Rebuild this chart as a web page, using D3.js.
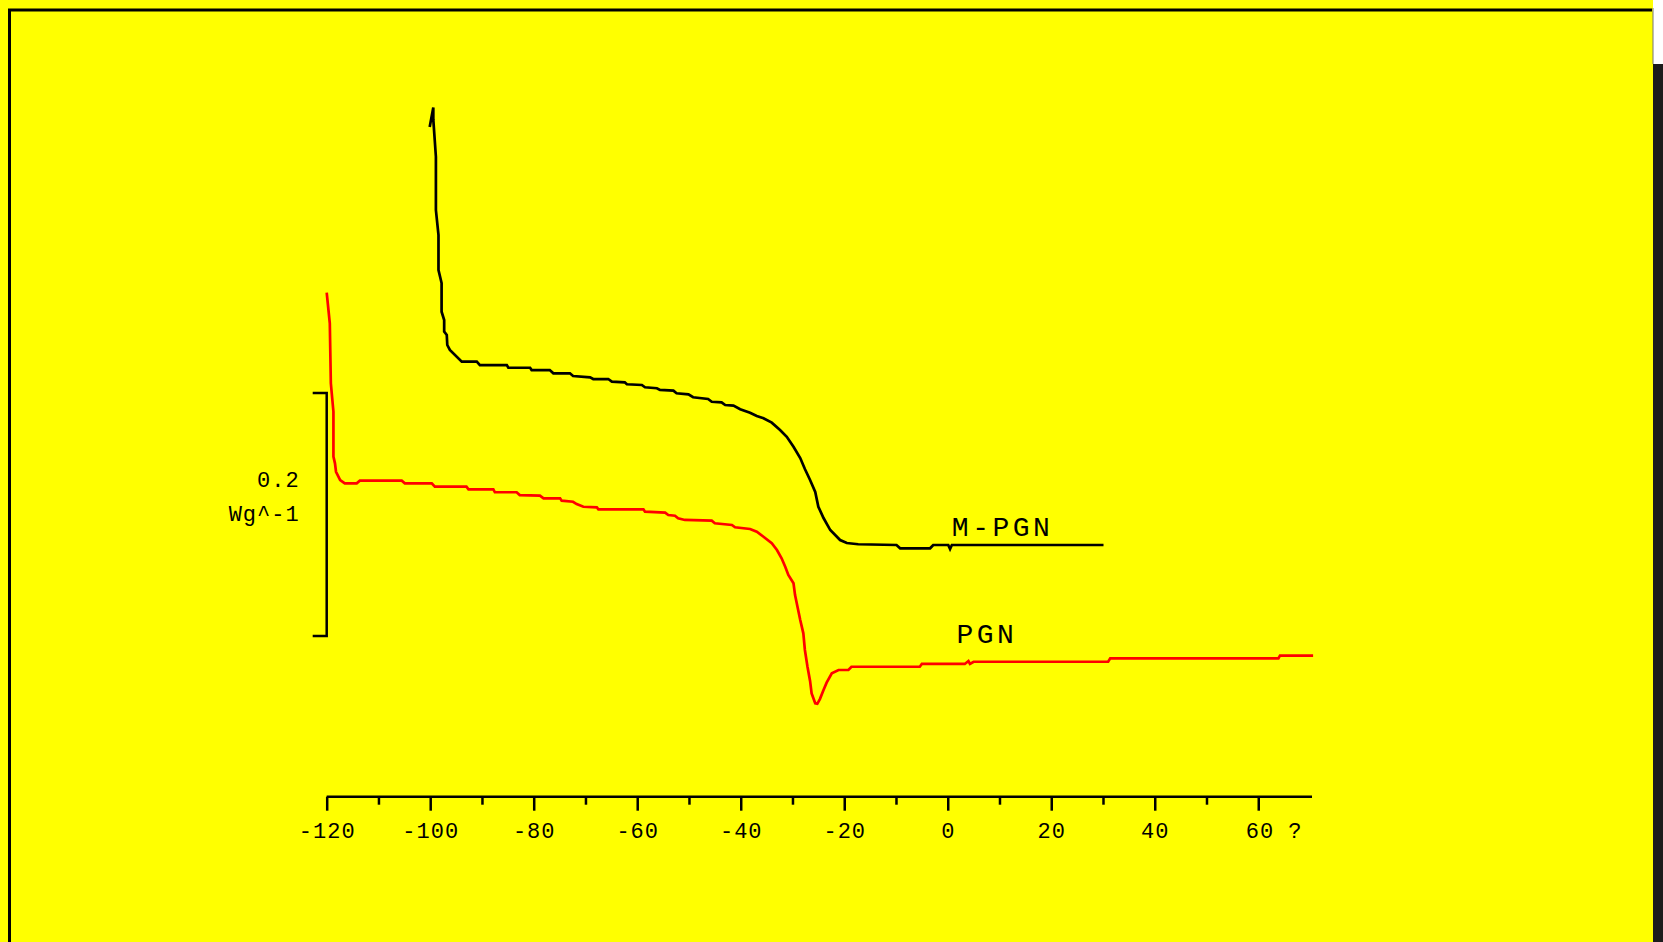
<!DOCTYPE html>
<html>

<head>
    <title>DSC curves</title>
    <script src="https://d3js.org/d3.v7.min.js"></script>
    <style>
        body { margin: 0; overflow: hidden; }
    </style>
</head>

<body>

    <svg width="1663" height="942" id="mainSvg"></svg>
    <script>

        // temperature (°C) and heat flow (W/g, arbitrary offset)
        const mpgnTemp = [-100.1, -99.4, -99.4, -98.9, -98.9, -98.4, -98.4, -97.8, -97.8, -97.3, -97.3, -96.8, -96.7,
            -96.2, -93.9, -91.0, -90.4, -85.2, -84.9, -80.7, -80.4, -76.9, -76.2, -73.0, -72.4, -69.1, -68.5, -65.6,
            -64.9, -62.4, -62.0, -59.1, -58.5, -56.2, -55.6, -53.0, -52.4, -50.1, -49.2, -46.3, -45.6, -43.7, -43.0,
            -41.4, -40.1, -38.2, -36.9, -35.6, -34.0, -32.4, -31.1, -29.8, -28.5, -27.6, -26.6, -25.6, -25.0, -24.0,
            -22.7, -20.8, -19.5, -17.3, -9.9, -9.2, -3.4, -2.8, 0.1, 0.45, 0.8, 30.1];
        const mpgnFlow = [0.419, 0.435, 0.425, 0.3945, 0.3506, 0.330, 0.3012, 0.2905, 0.2669, 0.2601, 0.2505, 0.2477, 0.2395,
            0.2354, 0.2258, 0.2258, 0.2230, 0.2230, 0.2208, 0.2208, 0.2189, 0.2189, 0.2162, 0.2162, 0.2140, 0.2129, 0.2115, 0.2115,
            0.2093, 0.2088, 0.2072, 0.2066, 0.2047, 0.2039, 0.2025, 0.2019, 0.1998, 0.1989, 0.1965, 0.1951, 0.1928, 0.1923, 0.1901,
            0.1896, 0.1866, 0.1838, 0.1811, 0.1792, 0.1756, 0.1695, 0.1640, 0.1558, 0.1465, 0.1374, 0.1284, 0.1185, 0.1064, 0.0971,
            0.0872, 0.0790, 0.0765, 0.0755, 0.0749, 0.0722, 0.0722, 0.0749, 0.0749, 0.0716, 0.0749, 0.0749];

        const pgnTemp = [-120.0, -119.4, -119.2, -118.7, -118.7, -118.4, -118.2, -117.4, -116.5, -114.2, -113.6, -105.5, -104.9,
            -99.7, -99.1, -93.0, -92.6, -87.8, -87.5, -83.3, -82.7, -78.8, -78.1, -74.9, -74.6, -72.4, -71.7, -70.4, -67.8,
            -67.5, -58.8, -58.5, -54.6, -54.0, -52.7, -52.1, -50.8, -45.6, -45.0, -41.7, -41.1, -38.2, -36.9, -35.6, -34.0,
            -33.0, -32.1, -31.4, -30.8, -29.8, -29.5, -28.9, -28.5, -27.9, -27.6, -27.1, -26.6, -26.3, -25.6, -25.2, -24.7,
            -24.0, -23.4, -22.4, -21.1, -19.2, -18.6, -5.4, -5.0, 3.3, 4.0, 4.3, 5.0, 31.0, 31.4, 63.9, 64.2, 70.6];
        const pgnFlow = [0.2826, 0.2574, 0.2080, 0.1846, 0.1476, 0.1421, 0.1352, 0.1284, 0.1257, 0.1257, 0.1278, 0.1278, 0.1257,
            0.1257, 0.1229, 0.1229, 0.1207, 0.1207, 0.1183, 0.1183, 0.1160, 0.1155, 0.1133, 0.1133, 0.1114, 0.1105, 0.1086, 0.1064, 0.1059,
            0.1043, 0.1043, 0.1023, 0.1015, 0.0996, 0.0990, 0.0969, 0.0955, 0.0949, 0.0928, 0.0914, 0.0895, 0.0881, 0.0858, 0.0817, 0.0763,
            0.0708, 0.0640, 0.0570, 0.0502, 0.0434, 0.0337, 0.0214, 0.0132, 0.0022, -0.0115, -0.0253, -0.0370, -0.0472, -0.0554, -0.0558, -0.0519,
            -0.0444, -0.0384, -0.0307, -0.0280, -0.0280, -0.0253, -0.0253, -0.0230, -0.0230, -0.0206, -0.0230, -0.0212, -0.0212, -0.0184, -0.0184, -0.0162, -0.0162];

        const majorTicks = [-120, -100, -80, -60, -40, -20, 0, 20, 40, 60];
        const tickLabels = ["-120", "-100", "-80", "-60", "-40", "-20", "0", "20", "40", "60 ?"];
        const minorTicks = [-110, -90, -70, -50, -30, -10, 10, 30, 50];
        const scaleBar = [0, 0.2];
        const scaleLabels = ["0.2", "Wg^-1"];
        const seriesNames = ["M-PGN", "PGN"];
        const seriesLabelAt = [[0.8, 0.082], [1.7, -0.006]];

        const mainSvg = d3.select("#mainSvg");
        const W = +mainSvg.attr("width");
        const H = +mainSvg.attr("height");

        // window background
        mainSvg.append("rect").attr("width", W).attr("height", H).attr("fill", "#ffffff");
        mainSvg.append("rect").attr("width", 1653).attr("height", H).attr("fill", "#ffff00");
        mainSvg.append("rect").attr("x", 1653).attr("y", 64).attr("width", W - 1653).attr("height", H - 64).attr("fill", "#1c1c1c");
        mainSvg.append("line").attr("x1", 1653).attr("x2", 1653).attr("y1", 8).attr("y2", 64)
            .attr("stroke", "#777").attr("stroke-width", 1);
        mainSvg.append("path").attr("d", "M9.5,942V10H1652").attr("fill", "none")
            .attr("stroke", "#000").attr("stroke-width", 3);

        const x = d3.scaleLinear().domain([-120, 70]).range([326.7, 1310]);
        const y = d3.scaleLinear().domain([0, 0.2]).range([636, 393]);
        const axisY = 796.7;

        const g = mainSvg.append("g").attr("id", "mainGroup");

        // x axis: major ticks with labels, then minor ticks
        const major = g.append("g")
            .attr("transform", `translate(0, ${axisY})`)
            .call(d3.axisBottom(x).tickValues(majorTicks).tickSize(14).tickSizeOuter(0)
                .tickFormat((d, i) => tickLabels[i]));
        major.select(".domain").attr("stroke-width", 2.5).attr("d", `M${x(-120)},0H${x(70) + 2}`);
        major.selectAll(".tick line").attr("stroke-width", 2.5);
        major.selectAll(".tick text")
            .attr("y", 41.5).attr("dy", null)
            .attr("font-family", "'Liberation Mono', monospace")
            .attr("font-size", 22).attr("letter-spacing", 1).attr("fill", "#000");
        major.selectAll(".tick text").filter((d, i) => i === majorTicks.length - 1)
            .attr("text-anchor", "start").attr("x", -13);

        const minor = g.append("g")
            .attr("transform", `translate(0, ${axisY})`)
            .call(d3.axisBottom(x).tickValues(minorTicks).tickSize(8).tickFormat(""));
        minor.select(".domain").remove();
        minor.selectAll(".tick line").attr("stroke-width", 2.5);

        // vertical scale bar for 0.2 W/g
        const barX = x(-120);
        g.append("path")
            .attr("d", `M${barX - 14},${y(scaleBar[1])}H${barX}V${y(scaleBar[0])}H${barX - 14}`)
            .attr("fill", "none").attr("stroke", "#000").attr("stroke-width", 2.5);
        g.selectAll(".scaleLabel").data(scaleLabels).join("text")
            .attr("class", "scaleLabel")
            .attr("x", barX - 27)
            .attr("y", (d, i) => y(scaleBar[1]) + 94 + i * 34)
            .attr("text-anchor", "end")
            .attr("font-family", "'Liberation Mono', monospace")
            .attr("font-size", 22).attr("letter-spacing", 1)
            .text(d => d);

        // curves
        const line = d3.line().x(d => x(d[0])).y(d => y(d[1]));
        const mpgn = mpgnTemp.map((t, i) => [t, mpgnFlow[i]]);
        const pgn = pgnTemp.map((t, i) => [t, pgnFlow[i]]);

        g.append("path").datum(mpgn).attr("d", line)
            .attr("fill", "none").attr("stroke", "#000").attr("stroke-width", 2.7);
        g.append("path").datum(pgn).attr("d", line)
            .attr("fill", "none").attr("stroke", "#ff0000").attr("stroke-width", 2.7);

        g.selectAll(".seriesLabel").data(seriesNames).join("text")
            .attr("class", "seriesLabel")
            .attr("x", (d, i) => x(seriesLabelAt[i][0]))
            .attr("y", (d, i) => y(seriesLabelAt[i][1]))
            .attr("font-family", "'Liberation Mono', monospace")
            .attr("font-size", 28).attr("letter-spacing", 3.5)
            .text(d => d);

    </script>
</body>

</html>
